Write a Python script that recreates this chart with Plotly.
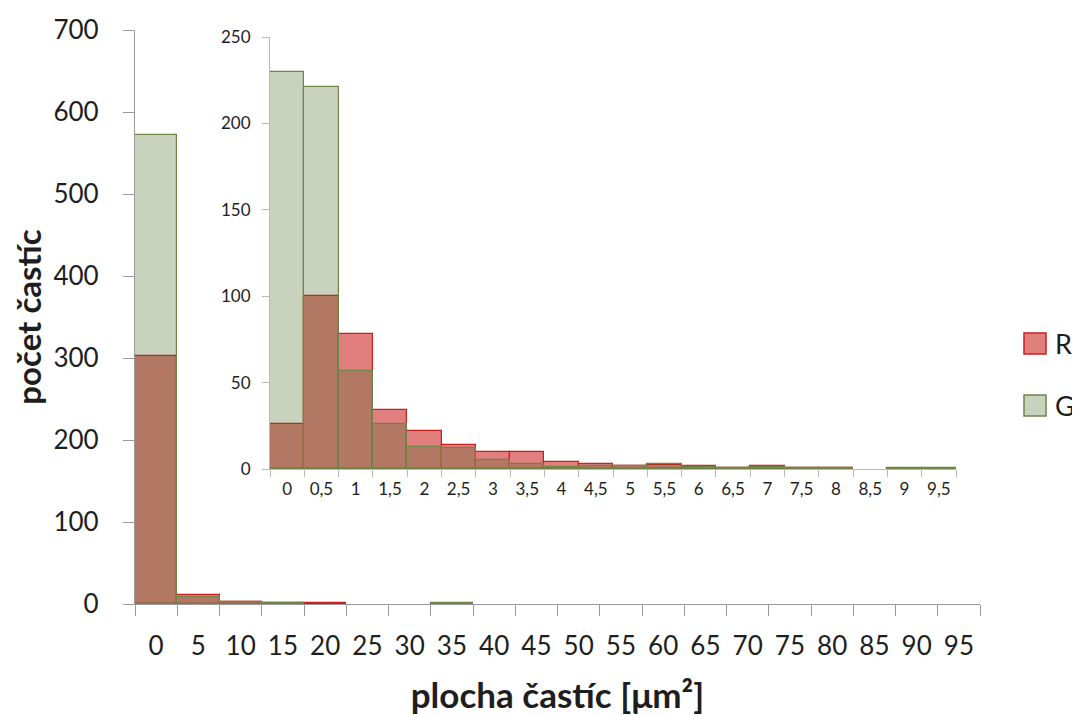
import plotly.graph_objects as go

# ---- data ----
main_bins = ["0", "5", "10", "15", "20", "25", "30", "35", "40", "45",
             "50", "55", "60", "65", "70", "75", "80", "85", "90", "95"]
main_R = [303, 11, 3, 1, 1.5, 0, 0, 0, 0, 0, 0, 0, 0, 0, 0, 0, 0, 0, 0, 0]
main_G = [572, 9, 2, 1.5, 0, 0, 0, 1.5, 0, 0, 0, 0, 0, 0, 0, 0, 0, 0, 0, 0]

inset_bins = ["0", "0,5", "1", "1,5", "2", "2,5", "3", "3,5", "4", "4,5",
              "5", "5,5", "6", "6,5", "7", "7,5", "8", "8,5", "9", "9,5"]
inset_R = [26, 100, 78, 34, 22, 14, 10, 10, 4, 3, 1.5, 2.5, 1.8, 0.7, 2, 0.7, 0.4, 0, 0, 0]
inset_G = [230, 221, 57, 26, 13, 12, 5, 3, 1.2, 2, 2, 2.8, 1, 0.3, 1, 0.3, 0.6, 0, 0.7, 0.7]

series_names = ["R", "G"]

# ---- style ----
R_FILL = "rgba(200,20,20,0.55)"
R_LINE = "rgb(205,30,30)"
G_FILL = "rgba(72,105,38,0.3)"
G_LINE = "rgb(112,132,72)"
FONT = "Lato"
TXT = "#1e1e1e"
AX = "#9a9a9a"
AX2 = "#b8b8b8"


def nz(vals):
    # empty bins are not drawn (no outline on the axis)
    return [v if v else None for v in vals]


fig = go.Figure()

for xa, ya, bins, r, g in [("x", "y", main_bins, main_R, main_G),
                           ("x2", "y2", inset_bins, inset_R, inset_G)]:
    fig.add_trace(go.Bar(x=bins, y=nz(r), name=series_names[0], xaxis=xa, yaxis=ya,
                         marker=dict(color=R_FILL, line=dict(color=R_LINE, width=1.2)),
                         showlegend=False))
    fig.add_trace(go.Bar(x=bins, y=nz(g), name=series_names[1], xaxis=xa, yaxis=ya,
                         marker=dict(color=G_FILL, line=dict(color=G_LINE, width=1.2)),
                         showlegend=False))

# page body adds an 8px offset; work in window pixels
OFF = 8
W, H = 1080 - OFF, 715 - OFF
PL, PR, PT, PB = 135, 980, 30, 604          # plot box in window pixels
L, T = PL - OFF, PT - OFF
R, B = W - (PR - OFF), H - (PB - OFF)
pw, ph = W - L - R, H - T - B


def px2x(px):
    return (px - OFF - L) / pw


def px2y(py):
    return (H - B - (py - OFF)) / ph


fig.update_layout(
    width=W, height=H,
    margin=dict(l=L, r=R, t=T, b=B, autoexpand=False),
    paper_bgcolor="white", plot_bgcolor="rgba(0,0,0,0)",
    barmode="overlay", bargap=0,
    font=dict(family=FONT, color=TXT),
    xaxis=dict(type="category", tickson="boundaries", ticks="outside", ticklen=11,
               tickcolor=AX, showline=True, linecolor=AX, linewidth=1.2,
               showgrid=False, zeroline=False, ticklabelstandoff=19, automargin=False,
               tickfont=dict(size=26, family=FONT, color=TXT),
               title=dict(text="<b>plocha častíc [μm²]</b>", standoff=23,
                          font=dict(size=35, family=FONT, color=TXT))),
    yaxis=dict(range=[0, 700], dtick=100, ticks="outside", ticklen=11,
               tickcolor=AX, showline=True, linecolor=AX, linewidth=1.2,
               showgrid=False, zeroline=False, ticklabelstandoff=19, automargin=False,
               tickfont=dict(size=26, family=FONT, color=TXT),
               title=dict(text="<b>počet častíc</b>", standoff=10,
                          font=dict(size=33, family=FONT, color=TXT))),
    xaxis2=dict(type="category", tickson="boundaries", ticks="outside", ticklen=7,
                tickcolor=AX2, showline=True, linecolor=AX2, linewidth=1,
                showgrid=False, zeroline=False, ticklabelstandoff=5, automargin=False,
                domain=[px2x(270), px2x(956)], anchor="y2",
                tickfont=dict(size=17, family=FONT, color=TXT)),
    yaxis2=dict(range=[0, 250], dtick=50, ticks="outside", ticklen=7,
                tickcolor=AX2, showline=True, linecolor=AX2, linewidth=1,
                showgrid=False, zeroline=False, ticklabelstandoff=8, automargin=False,
                domain=[px2y(469), px2y(37)], anchor="x2",
                tickfont=dict(size=17, family=FONT, color=TXT)),
)

# ---- legend (drawn) ----
legend_items = [(series_names[0], R_FILL, R_LINE, 333), (series_names[1], G_FILL, G_LINE, 395)]
for name, fill, line, top in legend_items:
    fig.add_shape(type="rect", xref="paper", yref="paper",
                  x0=px2x(1024), x1=px2x(1046), y0=px2y(top + 21), y1=px2y(top),
                  fillcolor=fill, line=dict(color=line, width=1.5))
    fig.add_annotation(text=name, xref="paper", yref="paper", x=px2x(1053),
                       y=px2y(top + 10.5), xanchor="left", yanchor="middle",
                       showarrow=False, font=dict(size=27, family=FONT, color=TXT))

fig.write_html("out.html")
